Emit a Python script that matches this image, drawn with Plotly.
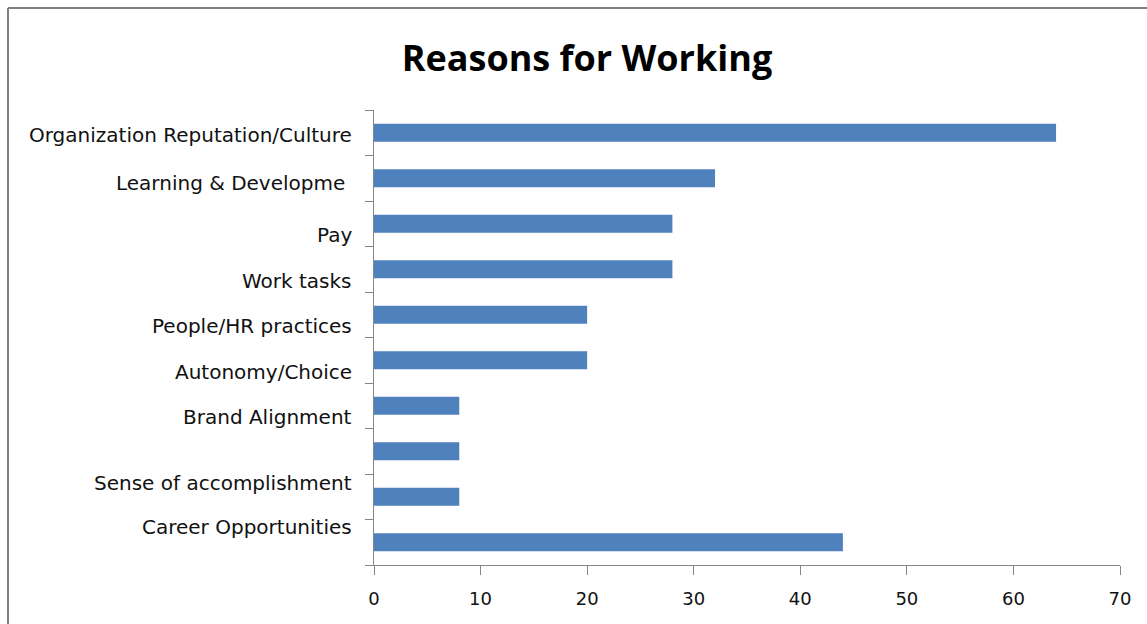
import plotly.graph_objects as go

# ---- data ----
bar_values = [64, 32, 28, 28, 20, 20, 8, 8, 8, 44]
label_texts = [
    "Organization Reputation/Culture",
    "Learning & Developme\u00a0",
    "Pay",
    "Work tasks",
    "People/HR practices",
    "Autonomy/Choice",
    "Brand Alignment",
    "Sense of accomplishment",
    "Career Opportunities",
]
x_ticks = [0, 10, 20, 30, 40, 50, 60, 70]

# label placement (in category units, as drawn in the original, offset from the bars)
label_slots = [0.05, 1.1, 2.25, 3.25, 4.25, 5.25, 6.25, 7.7, 8.66]

n = len(bar_values)
bar_pos = list(range(n))

fig = go.Figure()
fig.add_trace(go.Bar(
    x=bar_values, y=bar_pos, orientation="h",
    marker=dict(color="#4F81BD", line=dict(width=0)),
    width=0.4,
    hoverinfo="x",
))

AX = "#868686"
LFONT = "DejaVu Sans, sans-serif"
TFONT = "Open Sans, DejaVu Sans, sans-serif"

for txt, pos in zip(label_texts, label_slots):
    fig.add_annotation(
        text=txt, x=0, xref="paper", y=pos, yref="y",
        xanchor="right", yanchor="middle", xshift=-20, showarrow=False,
        font=dict(family=LFONT, size=20, color="#111111"),
    )

fig.update_layout(
    width=1147, height=624,
    margin=dict(l=374, r=27, t=110, b=59),
    paper_bgcolor="white", plot_bgcolor="white",
    showlegend=False,
    title=dict(
        text="<b>Reasons for Working</b>",
        x=587 / 1147, xref="container", xanchor="center",
        y=1 - 58 / 624, yref="container", yanchor="middle",
        font=dict(family=TFONT, size=36, color="black"),
    ),
    xaxis=dict(
        range=[0, 70], tickvals=x_ticks, showgrid=False, zeroline=False,
        showline=True, linecolor=AX, linewidth=1,
        ticks="outside", ticklen=9, tickcolor=AX,
        tickfont=dict(family=LFONT, size=18, color="#111111"),
        ticklabelstandoff=8,
    ),
    yaxis=dict(
        range=[n - 0.5, -0.5],
        tickvals=[i - 0.5 for i in range(n + 1)],
        ticktext=[""] * (n + 1),
        showgrid=False, zeroline=False,
        showline=True, linecolor=AX, linewidth=1,
        ticks="outside", ticklen=8, tickcolor=AX,
    ),
    shapes=[
        dict(type="line", xref="paper", yref="paper",
             x0=(8 - 374) / 746, x1=2, y0=1 + (110 - 8) / 455, y1=1 + (110 - 8) / 455,
             line=dict(color="#808080", width=2)),
        dict(type="line", xref="paper", yref="paper",
             x0=(8 - 374) / 746, x1=(8 - 374) / 746, y0=1 + (110 - 8) / 455, y1=-2,
             line=dict(color="#808080", width=2)),
    ],
)

fig.write_html("out.html")
